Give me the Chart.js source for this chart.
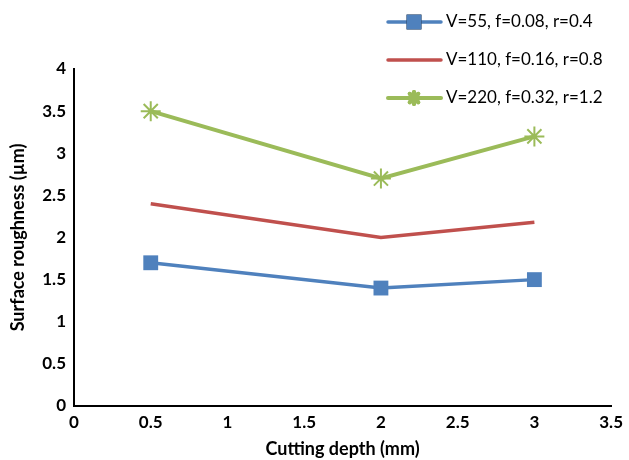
<!DOCTYPE html>
<html>
<head>
<meta charset="utf-8">
<script src="https://cdn.jsdelivr.net/npm/chart.js@4"></script>
<style>
  body { margin: 0; background: #fff; }
  #wrap { width: 629px; height: 460px; }
</style>
</head>
<body>
<div id="wrap"><canvas id="myChart" width="629" height="460"></canvas></div>
<script>
// values
const depths = [0.5, 2, 3];
const seriesNames = ['V=55, f=0.08, r=0.4', 'V=110, f=0.16, r=0.8', 'V=220, f=0.32, r=1.2'];
const rough55 = [1.7, 1.4, 1.5];
const rough110 = [2.4, 2.0, 2.18];
const rough220 = [3.5, 2.7, 3.2];

const FONT = 'Lato';

function toPoints(ys) {
    return depths.map(function(x, i) { return { x: x, y: ys[i] }; });
}

// legend drawn by hand so it can sit over the plot like in the original
const legendPlugin = {
    id: 'sideLegend',
    afterDraw: function(chart) {
        const ctx = chart.ctx;
        const rows = [22, 60, 98];
        ctx.save();
        chart.data.datasets.forEach(function(ds, i) {
            const y = rows[i];
            ctx.strokeStyle = ds.borderColor;
            ctx.lineWidth = ds.borderWidth;
            ctx.lineCap = 'round';
            ctx.beginPath();
            ctx.moveTo(388, y);
            ctx.lineTo(441, y);
            ctx.stroke();
            if (ds.pointRadius > 0) {
                Chart.helpers.drawPoint(ctx, {
                    pointStyle: ds.pointStyle,
                    radius: ds.pointStyle === 'star' ? 6 : ds.pointRadius,
                    borderWidth: ds.pointBorderWidth
                }, 414, y);
                if (ds.pointStyle === 'rect') {
                    ctx.fillStyle = ds.pointBackgroundColor;
                    ctx.fill();
                } else {
                    ctx.strokeStyle = ds.pointBorderColor;
                    ctx.stroke();
                }
            }
            ctx.fillStyle = '#000';
            ctx.font = '17px ' + FONT;
            ctx.textBaseline = 'middle';
            ctx.textAlign = 'left';
            ctx.fillText(ds.label, 446, y);
        });
        ctx.restore();
    }
};

const ctx = document.getElementById('myChart').getContext('2d');
const myChart = new Chart(ctx, {
    type: 'line',
    data: {
        datasets: [{
            label: seriesNames[0],
            data: toPoints(rough55),
            borderColor: '#4F81BD',
            backgroundColor: '#4F81BD',
            pointBackgroundColor: '#4F81BD',
            pointBorderColor: '#4F81BD',
            borderWidth: 3.5,
            pointStyle: 'rect',
            pointRadius: 10.5,
            pointBorderWidth: 0
        }, {
            label: seriesNames[1],
            data: toPoints(rough110),
            borderColor: '#C0504D',
            backgroundColor: '#C0504D',
            borderWidth: 3.5,
            pointRadius: 0
        }, {
            label: seriesNames[2],
            data: toPoints(rough220),
            borderColor: '#9BBB59',
            backgroundColor: '#9BBB59',
            pointBackgroundColor: '#9BBB59',
            pointBorderColor: '#9BBB59',
            borderWidth: 4,
            pointStyle: 'star',
            pointRadius: 10,
            pointBorderWidth: 2
        }]
    },
    options: {
        responsive: false,
        animation: false,
        layout: { padding: { top: 69, right: 16, left: 0, bottom: 0 } },
        plugins: {
            legend: { display: false },
            tooltip: { enabled: false }
        },
        scales: {
            x: {
                type: 'linear',
                min: 0,
                max: 3.5,
                grid: { display: false, drawTicks: false },
                border: { color: '#000', width: 2 },
                ticks: {
                    stepSize: 0.5,
                    color: '#000',
                    padding: 6,
                    font: { family: FONT, size: 17, weight: 'bold' },
                    callback: function(v) { return String(v); }
                },
                title: {
                    display: true,
                    text: 'Cutting depth (mm)',
                    color: '#000',
                    font: { family: FONT, size: 18, weight: 'bold' },
                    padding: { top: 0, bottom: 0 }
                },
                afterFit: function(scale) { scale.height = 54; }
            },
            y: {
                min: 0,
                max: 4,
                grid: { display: false, drawTicks: false },
                border: { color: '#000', width: 2 },
                ticks: {
                    stepSize: 0.5,
                    color: '#000',
                    padding: 8,
                    font: { family: FONT, size: 17, weight: 'bold' },
                    callback: function(v) { return String(v); }
                },
                title: {
                    display: true,
                    text: 'Surface roughness (µm)',
                    color: '#000',
                    font: { family: FONT, size: 18, weight: 'bold' },
                    padding: { top: 7, bottom: 0 }
                },
                afterFit: function(scale) { scale.width = 74; }
            }
        }
    },
    plugins: [legendPlugin]
});
</script>
</body>
</html>
